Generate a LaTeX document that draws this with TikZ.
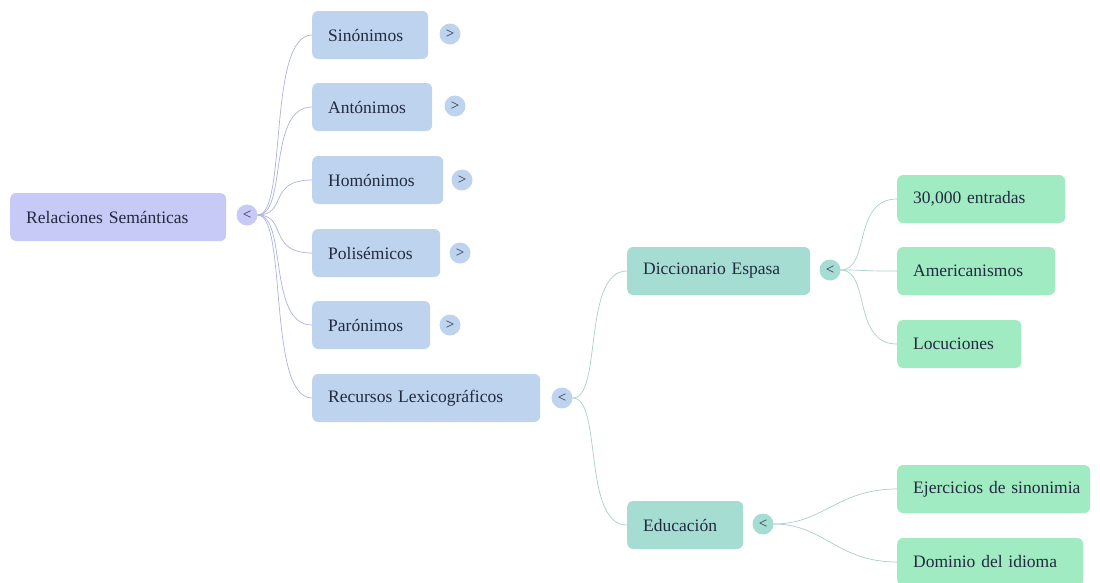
\documentclass[tikz,border=0pt]{standalone}
\usepackage{fontspec}
\setmainfont{Liberation Serif}
\definecolor{rootc}{HTML}{C7C9F6}
\definecolor{bluec}{HTML}{BED3EE}
\definecolor{tealc}{HTML}{A5DDD3}
\definecolor{mintc}{HTML}{A0EBC2}
\definecolor{rootline}{HTML}{ADB2E3}
\definecolor{tealline}{HTML}{A9CFCB}
\definecolor{txtc}{HTML}{222A40}
\begin{document}
\begin{tikzpicture}[x=1pt,y=-1pt,
  box/.style={draw=none,rounded corners=6pt,minimum height=48pt,inner xsep=16pt,anchor=west,
    font=\fontsize{17.5}{20}\selectfont,text=txtc,align=left},
  rootbox/.style={box,fill=rootc},
  bluebox/.style={box,fill=bluec},
  tealbox/.style={box,fill=tealc},
  mintbox/.style={box,fill=mintc},
  tog/.style={circle,minimum size=21pt,inner sep=0pt,font=\fontsize{15}{16}\selectfont,text=txtc},
  link/.style={line width=0.7pt},
]
\useasboundingbox (0,0) rectangle (1100,582);

\node[rootbox,text width=184pt] (root) at (10,217) {\mbox{Relaciones Semánticas}};
\node[tog,fill=rootc] (troot) at (247,215) {<};

\node[bluebox,text width=84pt] (sin) at (312,35) {\mbox{Sinónimos}};
\node[tog,fill=bluec] (tsin) at (450,34) {>};
\node[bluebox,text width=88pt] (ant) at (312,107) {\mbox{Antónimos}};
\node[tog,fill=bluec] (tant) at (455,106) {>};
\node[bluebox,text width=99pt] (hom) at (312,180) {\mbox{Homónimos}};
\node[tog,fill=bluec] (thom) at (462,180) {>};
\node[bluebox,text width=96pt] (pol) at (312,253) {\mbox{Polisémicos}};
\node[tog,fill=bluec] (tpol) at (460,253) {>};
\node[bluebox,text width=86pt] (par) at (312,325) {\mbox{Parónimos}};
\node[tog,fill=bluec] (tpar) at (450,325) {>};
\node[bluebox,text width=196pt] (rec) at (312,398) {\mbox{Recursos Lexicográficos}};
\node[tog,fill=bluec] (trec) at (562,398) {<};

\node[tealbox,text width=151pt] (dic) at (627,271) {\mbox{Diccionario Espasa}};
\node[tog,fill=tealc] (tdic) at (830,270) {<};
\node[tealbox,text width=84pt] (edu) at (627,525) {\mbox{Educación}};
\node[tog,fill=tealc] (tedu) at (763,524) {<};

\node[mintbox,text width=136pt] (ent) at (897,199) {\mbox{30,000 entradas}};
\node[mintbox,text width=126pt] (ame) at (897,271) {\mbox{Americanismos}};
\node[mintbox,text width=92pt] (loc) at (897,344) {\mbox{Locuciones}};
\node[mintbox,text width=161pt] (eje) at (897,489) {\mbox{Ejercicios de sinonimia}};
\node[mintbox,text width=154pt] (dom) at (897,562) {\mbox{Dominio del idioma}};

\begin{scope}[link,draw=rootline]
\foreach \n in {sin,ant,hom,pol,par,rec}
  \draw (troot.east) .. controls +(30,0) and +(-45,0) .. (\n.west);
\end{scope}
\begin{scope}[link,draw=tealline]
\foreach \n in {dic,edu}
  \draw (trec.east) .. controls +(30,0) and +(-45,0) .. (\n.west);
\foreach \n in {ent,ame,loc}
  \draw (tdic.east) .. controls +(30,0) and +(-45,0) .. (\n.west);
\foreach \n in {eje,dom}
  \draw (tedu.east) .. controls +(50,0) and +(-60,0) .. (\n.west);
\end{scope}
\end{tikzpicture}
\end{document}
